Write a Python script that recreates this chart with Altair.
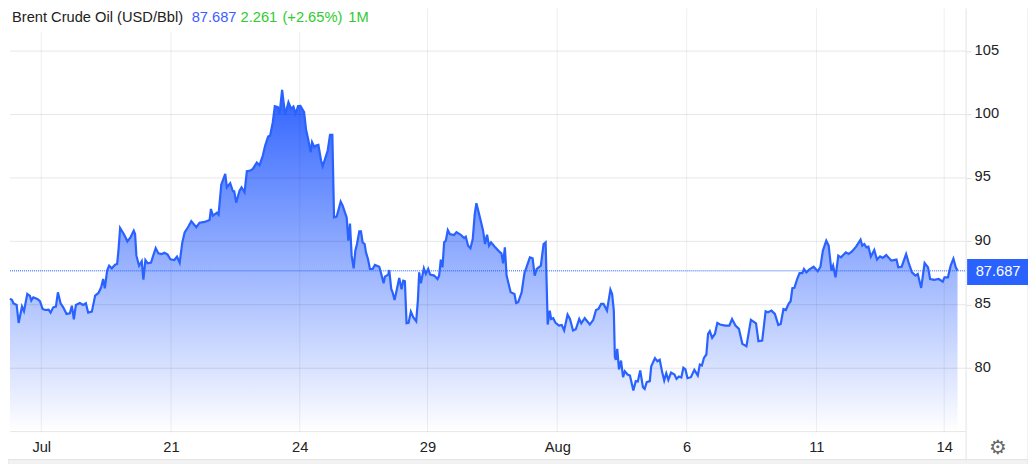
import altair as alt
import pandas as pd

# time index and price, first part of the period
t_a = [30,36,40,50,56,66,72,82,90,94,100,112,120,128,136,146,152,160,168,174,182,190,200,210,216,222,228,240,250,258,265,276,286,296,304,310,315,322,328,336,346,352,356,361,372,383,392,402,406,410,418,426,431,437,444,454,462,468,476,486,494,504,512,524,532,540,548,555,565,575,590,600,615,630,634,640,652,657,665,677,682,692,700,704,710,720,726,735,742,752,760,772,780,790,797,806,812,820,826,835,840,848,857,867,875,882,888,896,903,914,920,926,934,938,945,950,957,965,970,985,992,999,1004,1012,1024,1030,1042,1047,1052,1057,1063,1068,1073,1080,1085,1090,1096,1100,1106,1112,1120,1127,1140,1146,1153,1157,1167,1170,1176,1180,1186,1193,1200,1207,1212,1217,1222,1228,1235,1242,1251,1256,1260,1265,1274,1280,1287,1293,1305,1315,1320,1325,1330,1335,1340,1346,1352,1365,1372,1385,1395,1400,1407,1414,1421,1427,1432,1445,1452,1458,1464,1470,1476,1487]
p_a = [85.49,85.38,85.12,84.99,83.57,84.86,84.49,85.85,85.70,85.33,85.59,85.46,85.28,84.67,84.59,84.62,84.38,84.80,84.86,85.98,85.12,84.80,84.28,84.33,84.93,83.86,84.99,85.14,84.99,85.12,84.38,84.46,85.72,85.93,86.38,87.03,86.30,87.69,88.08,87.87,88.16,88.22,89.26,91.05,90.58,90.0,90.3,90.84,90.58,88.87,88.08,88.43,86.98,88.53,88.27,88.32,89.0,89.47,89.05,89.0,89.1,88.95,88.58,88.53,88.79,88.32,89.92,90.71,91.11,91.58,91.11,91.47,91.53,91.68,92.55,92.03,92.26,92.11,94.47,95.32,94.26,94.58,93.95,93.95,93.05,94.0,94.26,93.87,95.53,95.58,95.71,96.21,96.0,96.76,97.55,98.26,98.34,99.39,100.66,100.58,100.0,101.95,99.97,100.97,100.45,100.63,100.05,100.66,100.68,100.18,98.79,98.08,97.03,97.82,97.42,97.55,97.6,96.37,95.92,97.16,98.39,98.39,91.89,91.95,93.13,92.82,91.89,90.05,91.4,88.87,87.87,89.26,89.79,90.79,90.79,89.92,89.79,89.13,88.61,87.82,87.82,88.14,88.0,87.43,86.69,87.22,87.38,87.74,86.25,85.98,85.38,86.25,87.11,86.22,86.9,86.85,83.54,83.57,84.46,84.02,83.7,85.33,87.56,86.69,87.87,87.43,87.82,87.38,87.3,87.03,87.3,88.56,87.95,89.92,90.05,90.89,90.58,90.5,90.73,90.52,90.26,90.37,89.66,89.45,90.18,92.16,93.0,91.63,90.84,89.79,90.52,89.66,89.92,89.58]

# second part of the period
t_b_raw = [0,7,12,17,22,28,34,45,50,56,66,74,80,90,98,104,110,122,130,136,139,142,148,152,158,165,175,183,190,200,207,216,224,234,240,250,265,275,283,290,298,305,315,325,330,335,338,341,345,350,356,362,367,375,382,392,399,405,412,420,425,431,440,444,455,462,469,476,482,488,494,502,512,518,525,532,538,544,550,560,570,580,586,592,598,605,610,615,622,630,637,645,660,672,680,690,700,710,722,735,750,757,768,778,785,795,805,815,822,830,837,845,851,856,862,870,877,885,890,897,905,918,930,938,945,955,962,970,975,982,990,998,1012,1020,1030,1042,1055,1060,1066,1072,1078,1085,1095,1103,1112,1120,1130,1145,1160,1165,1175,1188,1195,1205,1215,1222,1232,1242,1252,1258,1270,1283,1295,1300,1310,1318,1326,1333,1338]
p_b = [89.21,89.06,88.27,89.53,87.3,86.64,85.98,85.85,85.14,85.2,85.98,87.48,87.95,88.74,88.66,87.3,87.82,88.08,89.79,89.92,86.64,83.44,84.54,83.88,83.94,83.57,83.36,83.41,82.97,84.23,83.88,82.97,83.07,83.88,83.54,83.94,83.44,83.81,84.59,84.67,85.07,85.07,84.54,86.19,85.85,84.54,80.87,80.66,81.52,79.9,80.6,79.29,79.76,79.5,79.42,78.24,78.98,78.95,79.82,78.5,78.37,78.9,78.98,80.13,80.79,80.55,80.66,79.69,79.03,79.6,79.08,79.66,79.5,79.16,79.34,79.27,80.03,79.9,79.21,79.29,79.87,79.42,80.29,80.21,80.81,81.08,82.7,82.91,82.39,82.7,83.57,83.44,83.36,83.36,83.88,83.36,83.1,81.92,81.73,83.81,83.54,82.13,82.18,84.49,84.41,84.54,84.28,83.41,83.49,84.67,84.59,85.07,85.28,86.3,86.33,87.03,87.5,87.5,87.82,87.56,87.77,88.0,87.64,88.0,89.26,90.05,89.66,87.69,88.08,87.16,88.87,88.74,89.13,89.0,89.21,89.58,90.13,89.66,89.79,89.53,89.58,88.79,89.32,88.56,88.82,88.69,88.92,88.48,88.56,87.95,88.0,89.0,88.35,87.56,87.3,87.43,86.33,88.29,87.95,87.03,86.96,87.03,86.82,87.16,87.16,88.08,88.63,87.95,87.687]

x_ticks = [124, 514, 901, 1285, 1675, 2064, 2454, 2838]
x_labels = ["Jul", "21", "24", "29", "Aug", "6", "11", "14"]
y_ticks = [80, 85, 90, 95, 100, 105]
last_price = 87.687
FONT = "Liberation Sans"
BLUE = "#2962ff"

t_b = [1500 + v * 1.03 for v in t_b_raw]
df = pd.DataFrame({"t": t_a + t_b, "price": p_a + p_b})

W, H = 958, 424
xs = alt.Scale(domain=[30, 30 + W * 3], nice=False, zero=False)
ys = alt.Scale(domain=[75, 108.36], nice=False, zero=False)
label_map = "{" + ",".join(f"{t}:'{l}'" for t, l in zip(x_ticks, x_labels)) + "}"

x_axis = alt.Axis(
    values=x_ticks, labelExpr=label_map + "[datum.value]", title=None, grid=False,
    domain=False, ticks=False, labelFont=FONT, labelFontSize=14.7, labelColor="#222222",
    labelPadding=8, labelOverlap=False, labelFlush=False)
y_axis = alt.Axis(
    orient="right", values=y_ticks, title=None, grid=False, domain=False,
    tickColor="#e0e0e0", tickSize=5, labelFont=FONT, labelFontSize=14.7,
    labelColor="#222222", labelPadding=3, labelOffset=-1)

base = alt.Chart(df).encode(
    x=alt.X("t:Q", scale=xs, axis=x_axis),
    y=alt.Y("price:Q", scale=ys, axis=y_axis),
)

area = base.mark_area(
    color=alt.Gradient(gradient="linear", x1=0, x2=0, y1=0, y2=1,
                       stops=[alt.GradientStop(color="#2f63ff", offset=0),
                              alt.GradientStop(color="#ffffff", offset=1)])
).encode(y2=alt.datum(75))
line = base.mark_line(color=BLUE, strokeWidth=2.2)

vgrid = alt.Chart(pd.DataFrame({"t": x_ticks})).mark_rule(color="#000000", opacity=0.07).encode(
    x=alt.X("t:Q", scale=xs, axis=x_axis), y=alt.value(0), y2=alt.value(H))
hgrid = alt.Chart(pd.DataFrame({"v": y_ticks + [75]})).mark_rule(color="#000000", opacity=0.1).encode(
    y=alt.Y("v:Q", scale=ys, axis=y_axis), x=alt.value(0), x2=alt.value(W))
price_line = alt.Chart(pd.DataFrame({"v": [last_price]})).mark_rule(
    color=BLUE, strokeWidth=1.5, strokeDash=[1, 1], opacity=0.7).encode(
    y=alt.Y("v:Q", scale=ys, axis=y_axis), x=alt.value(0), x2=alt.value(W))

divider = alt.Chart(pd.DataFrame({"a": [0]})).mark_rule(color="#e3e3e3").encode(
    x=alt.value(W), y=alt.value(0), y2=alt.value(H + 28))
outer = alt.Chart(pd.DataFrame({"a": [0]})).mark_rule(color="#e3e3e3").encode(
    x=alt.value(W + 62), y=alt.value(0), y2=alt.value(H + 28))
floor = alt.Chart(pd.DataFrame({"a": [0]})).mark_rect(color="#f2f2f2", stroke="#e3e3e3").encode(
    x=alt.value(-2), x2=alt.value(W + 62), y=alt.value(H + 28), y2=alt.value(H + 36))

title_bg = alt.Chart(pd.DataFrame({"a": [0]})).mark_rect(color="#ffffff").encode(
    x=alt.value(0), x2=alt.value(362), y=alt.value(0), y2=alt.value(23))

def label(text, px, color):
    return alt.Chart(pd.DataFrame({"s": [text]})).mark_text(
        font=FONT, fontSize=14.7, align="left", baseline="middle", color=color
    ).encode(text="s:N", x=alt.value(px), y=alt.value(10))

title_parts = (label("Brent Crude Oil (USD/Bbl)", 2, "#222222")
               + label("87.687", 182, "#3d5cff")
               + label("2.261", 231, "#2ecc2e")
               + label("(+2.65%)", 273, "#2ecc2e")
               + label("1M", 339, "#2ecc2e"))

badge = alt.Chart(pd.DataFrame({"v": [last_price]})).mark_rect(color=BLUE).encode(
    x=alt.value(W + 1), x2=alt.value(W + 62), y=alt.value(251), y2=alt.value(277))
badge_text = alt.Chart(pd.DataFrame({"s": ["87.687"]})).mark_text(
    font=FONT, fontSize=14.7, color="#ffffff", align="center", baseline="middle"
).encode(text="s:N", x=alt.value(W + 32), y=alt.value(264.5))
gear = alt.Chart(pd.DataFrame({"s": ["\u2699"]})).mark_text(
    font="DejaVu Sans", fontSize=20, color="#666666", align="center", baseline="middle"
).encode(text="s:N", x=alt.value(W + 32), y=alt.value(H + 16))

chart = alt.layer(
    area, vgrid, hgrid, title_bg, price_line, line, divider, outer, floor,
    title_parts, badge, badge_text, gear
).properties(
    width=W, height=H,
    autosize=alt.AutoSizeParams(type="none"),
    padding={"left": 2, "top": 0, "right": 62, "bottom": 32},
    background="#ffffff",
).configure_view(stroke=None)

chart.save("out.html", embed_options={"renderer": "svg", "actions": False})
